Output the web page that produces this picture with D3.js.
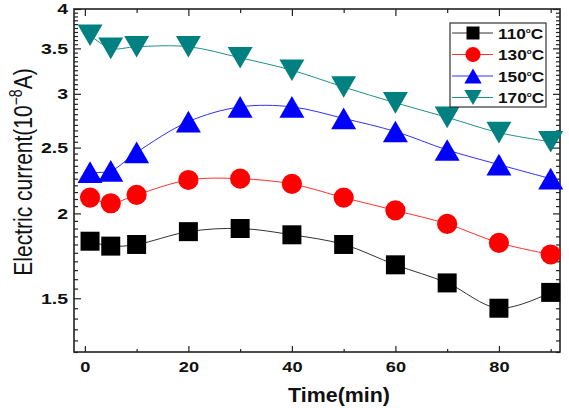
<!DOCTYPE html>
<html>
<head>
<meta charset="utf-8">
<script src="https://cdn.jsdelivr.net/npm/d3@7"></script>
<style>
  body { margin: 0; background: #fff; }
  text { font-family: "Liberation Sans", Arial, sans-serif; }
</style>
</head>
<body>
<svg width="569" height="408"></svg>
<script>
// measured values (time in min, current in 1e-8 A)
const times = [1, 5, 10, 20, 30, 40, 50, 60, 70, 80, 90];
const c110 = [1.82, 1.79, 1.80, 1.88, 1.90, 1.86, 1.80, 1.68, 1.58, 1.45, 1.53];
const c130 = [2.11, 2.07, 2.13, 2.24, 2.25, 2.21, 2.11, 2.02, 1.93, 1.81, 1.74];
const c150 = [2.30, 2.31, 2.46, 2.73, 2.87, 2.87, 2.76, 2.64, 2.48, 2.36, 2.25];
const c170 = [3.66, 3.50, 3.52, 3.52, 3.39, 3.25, 3.07, 2.91, 2.77, 2.63, 2.55];
const temps = ["110", "130", "150", "170"];
const xTicks = [0, 20, 40, 60, 80];
const xMinor = [10, 30, 50, 70, 90];
const yTicks = [1.5, 2, 2.5, 3, 3.5, 4];

let width = 569;
let height = 408;
let margin = ({top: 9, right: 9, bottom: 56, left: 74});

const colors = ["#000000", "#ff0000", "#0000ff", "#008080"];
const lineColors = ["#333333", "#ff3030", "#3030ff", "#20908a"];

// triangles centred on their bounding box, like Origin draws them
const triUp = {draw(ctx, size) {
    const s = Math.sqrt(size / (Math.sqrt(3) / 4)), h = s * Math.sqrt(3) / 2;
    ctx.moveTo(0, -h / 2); ctx.lineTo(s / 2, h / 2); ctx.lineTo(-s / 2, h / 2); ctx.closePath();
}};
const triDown = {draw(ctx, size) {
    const s = Math.sqrt(size / (Math.sqrt(3) / 4)), h = s * Math.sqrt(3) / 2;
    ctx.moveTo(0, h / 2); ctx.lineTo(s / 2, -h / 2); ctx.lineTo(-s / 2, -h / 2); ctx.closePath();
}};
const shapes = [d3.symbolSquare, d3.symbolCircle, triUp, triDown];
const sizes = [361, 320, 270, 270];
const legendSizes = [169, 180, 130, 130];

const series = [c110, c130, c150, c170].map((vals, i) => ({
    name: temps[i],
    values: times.map((t, j) => ({t, v: vals[j]}))
}));

const x = d3.scaleLinear()
    .domain([-2.1, 91.8])
    .range([margin.left, width - margin.right]);

const y = d3.scaleLog()
    .domain([1.25, 4])
    .range([height - margin.bottom, margin.top]);

const yMinor = d3.range(25, 81).map(d => d / 20).filter(d => !yTicks.includes(d));

const svg = d3.select("svg")
    .attr("viewBox", [0, 0, width, height]);

const plotB = height - margin.bottom, plotR = width - margin.right;

// bottom axis
svg.append("g")
    .attr("transform", `translate(0,${plotB})`)
    .call(d3.axisBottom(x).tickValues(xTicks).tickSize(-6).tickSizeOuter(0).tickPadding(10))
    .call(g => g.select(".domain").remove())
    .call(g => g.selectAll("text")
        .attr("font-size", 14).attr("font-weight", "bold")
        .attr("font-family", "Liberation Sans, Arial, sans-serif")
        .attr("fill", "#111")
        .attr("transform", "scale(1.3,1)"));
svg.append("g")
    .attr("transform", `translate(0,${plotB})`)
    .call(d3.axisBottom(x).tickValues(xMinor).tickSize(-3).tickSizeOuter(0).tickFormat(""))
    .call(g => g.select(".domain").remove());

// top axis (ticks only)
svg.append("g")
    .attr("transform", `translate(0,${margin.top})`)
    .call(d3.axisTop(x).tickValues(xTicks).tickSize(-7).tickSizeOuter(0).tickFormat(""))
    .call(g => g.select(".domain").remove());
svg.append("g")
    .attr("transform", `translate(0,${margin.top})`)
    .call(d3.axisTop(x).tickValues(xMinor).tickSize(-4).tickSizeOuter(0).tickFormat(""))
    .call(g => g.select(".domain").remove());

// left axis
svg.append("g")
    .attr("transform", `translate(${margin.left},0)`)
    .call(d3.axisLeft(y).tickValues(yTicks).tickSize(-7).tickSizeOuter(0).tickFormat(d3.format("")))
    .call(g => g.select(".domain").remove())
    .call(g => g.selectAll("text")
        .attr("font-size", 15).attr("font-weight", "bold")
        .attr("font-family", "Liberation Sans, Arial, sans-serif")
        .attr("fill", "#111")
        .attr("x", 0)
        .attr("transform", "translate(-6,0) scale(1.3,1)"));
svg.append("g")
    .attr("transform", `translate(${margin.left},0)`)
    .call(d3.axisLeft(y).tickValues(yMinor).tickSize(-4).tickSizeOuter(0).tickFormat(""))
    .call(g => g.select(".domain").remove());

// right axis (ticks only)
svg.append("g")
    .attr("transform", `translate(${plotR},0)`)
    .call(d3.axisRight(y).tickValues(yTicks).tickSize(-7).tickSizeOuter(0).tickFormat(""))
    .call(g => g.select(".domain").remove());
svg.append("g")
    .attr("transform", `translate(${plotR},0)`)
    .call(d3.axisRight(y).tickValues(yMinor).tickSize(-4).tickSizeOuter(0).tickFormat(""))
    .call(g => g.select(".domain").remove());

svg.selectAll(".tick line").attr("stroke", "#222").attr("stroke-width", 1.2);

// frame
svg.append("rect")
    .attr("x", margin.left).attr("y", margin.top)
    .attr("width", plotR - margin.left).attr("height", plotB - margin.top)
    .attr("fill", "none").attr("stroke", "#222").attr("stroke-width", 1.6);

// lines
const line = d3.line()
    .x(d => x(d.t))
    .y(d => y(d.v))
    .curve(d3.curveCatmullRom);

svg.append("g")
    .selectAll("path")
    .data(series)
    .join("path")
    .attr("fill", "none")
    .attr("stroke", (d, i) => lineColors[i])
    .attr("stroke-width", 1)
    .attr("d", d => line(d.values));

// markers
series.forEach((s, i) => {
    svg.append("g")
        .selectAll("path")
        .data(s.values)
        .join("path")
        .attr("transform", d => `translate(${x(d.t)},${y(d.v)})`)
        .attr("d", d3.symbol(shapes[i], sizes[i]))
        .attr("fill", colors[i]);
});

// legend
const legend = svg.append("g");
legend.append("rect")
    .attr("x", 450).attr("y", 23).attr("width", 96).attr("height", 84)
    .attr("fill", "#fff").attr("stroke", "#333").attr("stroke-width", 1.2);

const entry = legend.selectAll("g.entry")
    .data(series)
    .join("g")
    .attr("class", "entry")
    .attr("transform", (d, i) => `translate(0,${33 + i * 21.5})`);

entry.append("line")
    .attr("x1", 452).attr("x2", 493)
    .attr("stroke", (d, i) => lineColors[i]).attr("stroke-width", 1);
entry.append("path")
    .attr("transform", "translate(473,0)")
    .attr("d", (d, i) => d3.symbol(shapes[i], legendSizes[i])())
    .attr("fill", (d, i) => colors[i]);

const lt = entry.append("text")
    .attr("transform", "translate(498,5.5) scale(1.15,1)")
    .attr("font-size", 15).attr("font-weight", "bold").attr("fill", "#111");
lt.append("tspan").text(d => d.name);
lt.append("tspan").attr("font-size", 7).attr("dy", -6).text("o");
lt.append("tspan").attr("dy", 6).text("C");

// axis titles
svg.append("text")
    .attr("transform", "translate(339,401.5) scale(1.07,1)")
    .attr("text-anchor", "middle")
    .attr("font-size", 20).attr("font-weight", "bold").attr("fill", "#111")
    .text("Time(min)");

const yl = svg.append("text")
    .attr("transform", "translate(32,172) scale(1.27,1) rotate(-90)")
    .attr("text-anchor", "middle")
    .attr("font-size", 21).attr("fill", "#111");
yl.append("tspan").text("Electric current(10");
yl.append("tspan").attr("font-size", 14).attr("dy", -8).text("\u22128");
yl.append("tspan").attr("dy", 8).text("A)");
</script>
</body>
</html>
